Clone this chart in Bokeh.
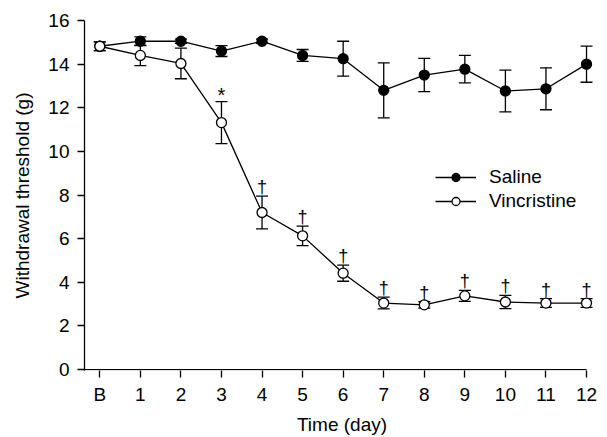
from bokeh.plotting import figure
from bokeh.models import ColumnDataSource, Legend, LegendItem, FixedTicker, Range1d
from bokeh.core.properties import value
from bokeh.embed import file_html
from bokeh.resources import INLINE

# ---- data ----
days = [0, 1, 2, 3, 4, 5, 6, 7, 8, 9, 10, 11, 12]
tick_labels = ["B", "1", "2", "3", "4", "5", "6", "7", "8", "9", "10", "11", "12"]
saline_mean = [14.82, 15.05, 15.05, 14.6, 15.05, 14.4, 14.25, 12.8, 13.5, 13.77, 12.77, 12.87, 14.0]
saline_err = [0.2, 0.2, 0.1, 0.25, 0.1, 0.27, 0.8, 1.26, 0.76, 0.63, 0.96, 0.96, 0.83]
vinc_mean = [14.82, 14.4, 14.03, 11.32, 7.2, 6.13, 4.42, 3.05, 2.97, 3.38, 3.1, 3.05, 3.05]
vinc_err = [0.2, 0.47, 0.7, 0.96, 0.75, 0.45, 0.37, 0.27, 0.15, 0.25, 0.3, 0.2, 0.2]
sig_marks = ["", "", "", "*", "†", "†", "†", "†", "†", "†", "†", "†", "†"]
y_ticks = [0, 2, 4, 6, 8, 10, 12, 14, 16]

FONT = "Liberation Sans"
FS = "19px"

p = figure(width=607, height=437, output_backend="svg", toolbar_location=None,
           x_range=Range1d(-0.377, 12.32), y_range=Range1d(-0.04, 16),
           min_border_left=84, min_border_right=8, min_border_top=20, min_border_bottom=66)
p.outline_line_color = None
p.xgrid.visible = False
p.ygrid.visible = False
p.background_fill_color = "white"
p.border_fill_color = "white"

for ax in (p.xaxis[0], p.yaxis[0]):
    ax.major_tick_out = 7
    ax.major_tick_in = 0
    ax.minor_tick_line_color = None
    ax.major_tick_line_width = 1.3
    ax.axis_line_width = 1.3
    ax.major_label_text_font = FONT
    ax.major_label_text_font_size = FS
    ax.major_label_text_color = "black"
    ax.axis_label_text_font = FONT
    ax.axis_label_text_font_size = FS
    ax.axis_label_text_font_style = "normal"
    ax.axis_label_text_color = "black"
    ax.axis_line_color = "black"
    ax.major_tick_line_color = "black"

p.xaxis.ticker = FixedTicker(ticks=days)
p.xaxis.major_label_overrides = {d: t for d, t in zip(days, tick_labels)}
p.xaxis.axis_label = "Time (day)"
p.xaxis.axis_line_color = None
p.xaxis.major_label_standoff = 6
p.xaxis.axis_label_standoff = 6
p.yaxis.ticker = FixedTicker(ticks=y_ticks)
p.yaxis.axis_label = "Withdrawal threshold (g)"
p.yaxis.major_label_standoff = 8
p.yaxis.axis_label_standoff = 12

# baseline (x axis line ending at last tick)
p.segment(x0=[-0.377], y0=[0], x1=[days[-1]], y1=[0], line_color="black", line_width=1.3)

src = ColumnDataSource(dict(
    x=days,
    s=saline_mean, s_lo=[m - e for m, e in zip(saline_mean, saline_err)],
    s_hi=[m + e for m, e in zip(saline_mean, saline_err)],
    v=vinc_mean, v_lo=[m - e for m, e in zip(vinc_mean, vinc_err)],
    v_hi=[m + e for m, e in zip(vinc_mean, vinc_err)],
))

# error bars
for lo, hi in (("s_lo", "s_hi"), ("v_lo", "v_hi")):
    p.segment(x0="x", y0=lo, x1="x", y1=hi, source=src, line_color="black", line_width=1.3)
    p.scatter(x="x", y=lo, source=src, marker="dash", size=12, line_color="black", line_width=1.3)
    p.scatter(x="x", y=hi, source=src, marker="dash", size=12, line_color="black", line_width=1.3)

s_line = p.line(x="x", y="s", source=src, line_color="black", line_width=1.3)
s_pts = p.scatter(x="x", y="s", source=src, size=10, fill_color="black", line_color="black", line_width=1.3)
v_line = p.line(x="x", y="v", source=src, line_color="black", line_width=1.3)
v_pts = p.scatter(x="x", y="v", source=src, size=10, fill_color="white", line_color="black", line_width=1.3)

# significance marks
star_x = [d for d, m in zip(days, sig_marks) if m == "*"]
star_y = [m + e for m, e, s in zip(vinc_mean, vinc_err, sig_marks) if s == "*"]
dag_x = [d for d, m in zip(days, sig_marks) if m == "†"]
dag_y = [m + e for m, e, s in zip(vinc_mean, vinc_err, sig_marks) if s == "†"]
p.text(x=star_x, y=star_y, text=["*"] * len(star_x), text_font=value(FONT), text_font_size="20px",
       text_align="center", text_baseline="alphabetic", y_offset=-7, text_color="#000000")
p.text(x=dag_x, y=dag_y, text=["†"] * len(dag_x), text_font=value(FONT), text_font_size="18px",
       text_align="center", text_baseline="alphabetic", y_offset=-9, text_color="#000000")

legend = Legend(items=[LegendItem(label="Saline", renderers=[s_line, s_pts]),
                       LegendItem(label="Vincristine", renderers=[v_line, v_pts])],
                location=(351, 158), padding=0, margin=0, spacing=2,
                glyph_width=41, glyph_height=20, label_height=20, label_standoff=13,
                label_text_font=FONT, label_text_font_size=FS, label_text_color="black",
                border_line_color=None, background_fill_alpha=0)
p.add_layout(legend)

open("out.html", "w").write(file_html(p, INLINE))
